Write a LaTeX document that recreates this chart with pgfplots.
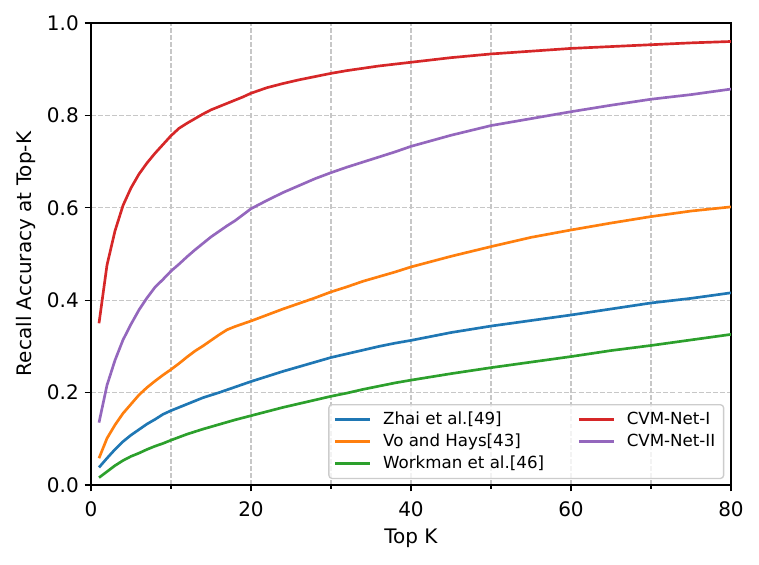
\documentclass[border=0pt]{standalone}
\usepackage{fontspec}
\setmainfont{DejaVu Sans}
\usepackage{pgfplots}
\usepackage{pgfplotstable}
\pgfplotsset{compat=1.18}
\definecolor{cA}{HTML}{1F77B4}
\definecolor{cB}{HTML}{FF7F0E}
\definecolor{cC}{HTML}{2CA02C}
\definecolor{cD}{HTML}{D62728}
\definecolor{cE}{HTML}{9467BD}

\pgfplotstableread{
k r
1 0.350
2 0.476
3 0.550
4 0.605
5 0.643
6 0.673
7 0.697
8 0.718
9 0.737
10 0.756
11 0.772
12 0.783
13 0.793
14 0.803
15 0.812
16 0.819
17 0.826
18 0.833
19 0.840
20 0.848
22 0.860
24 0.869
26 0.877
28 0.884
30 0.891
32 0.897
34 0.902
36 0.907
38 0.911
40 0.915
45 0.925
50 0.933
55 0.939
60 0.945
65 0.949
70 0.953
75 0.957
80 0.960
}\cvmone

\pgfplotstableread{
k r
1 0.135
2 0.216
3 0.270
4 0.314
5 0.348
6 0.379
7 0.405
8 0.428
9 0.445
10 0.463
11 0.478
12 0.494
13 0.509
14 0.523
15 0.537
16 0.549
17 0.561
18 0.572
19 0.585
20 0.598
22 0.616
24 0.633
26 0.648
28 0.663
30 0.676
32 0.688
34 0.699
36 0.710
38 0.721
40 0.733
45 0.757
50 0.778
55 0.793
60 0.808
65 0.822
70 0.835
75 0.845
80 0.857
}\cvmtwo

\pgfplotstableread{
k r
1 0.058
2 0.101
3 0.130
4 0.155
5 0.175
6 0.195
7 0.211
8 0.225
9 0.238
10 0.250
11 0.263
12 0.277
13 0.290
14 0.301
15 0.313
16 0.325
17 0.336
18 0.343
19 0.349
20 0.355
22 0.368
24 0.381
26 0.393
28 0.405
30 0.418
32 0.429
34 0.441
36 0.451
38 0.461
40 0.472
45 0.495
50 0.516
55 0.536
60 0.552
65 0.567
70 0.581
75 0.593
80 0.602
}\vohays

\pgfplotstableread{
k r
1 0.038
2 0.058
3 0.077
4 0.094
5 0.108
6 0.120
7 0.132
8 0.142
9 0.153
10 0.161
12 0.175
14 0.189
16 0.200
18 0.212
20 0.224
22 0.235
24 0.246
26 0.256
28 0.266
30 0.276
32 0.284
34 0.292
36 0.300
38 0.307
40 0.313
45 0.330
50 0.344
55 0.356
60 0.368
65 0.381
70 0.394
75 0.404
80 0.416
}\zhai

\pgfplotstableread{
k r
1 0.016
2 0.029
3 0.042
4 0.053
5 0.062
6 0.069
7 0.077
8 0.084
9 0.090
10 0.097
12 0.110
14 0.121
16 0.131
18 0.141
20 0.150
22 0.159
24 0.168
26 0.176
28 0.184
30 0.192
32 0.199
34 0.207
36 0.214
38 0.221
40 0.227
45 0.241
50 0.254
55 0.266
60 0.278
65 0.291
70 0.302
75 0.314
80 0.326
}\workman

\begin{document}
\begin{tikzpicture}
\useasboundingbox (-54.6pt,-47.4pt) rectangle (400.8pt,291pt);
\begin{axis}[
  at={(0,0)}, anchor=south west,
  scale only axis, width=384pt, height=277.2pt,
  xmin=0, xmax=80, ymin=0, ymax=1,
  xtick={0,20,40,60,80}, minor xtick={10,30,50,70},
  ytick={0,0.2,0.4,0.6,0.8,1},
  yticklabel style={/pgf/number format/.cd, fixed, fixed zerofill, precision=1},
  /pgf/number format/assume math mode=true,
  tick pos=left,
  tick align=outside, major tick length=3.8pt, minor tick length=2.2pt,
  tick style={black, line width=0.8pt},
  axis line style={line width=0.8pt},
  grid=both,
  major grid style={black!22, line width=0.8pt, dash pattern=on 2.96pt off 1.28pt},
  minor grid style={black!22, line width=0.8pt, dash pattern=on 2.96pt off 1.28pt},
  xlabel={Top K}, ylabel={Recall Accuracy at Top-K},
  label style={font=\fontsize{12}{14}\selectfont},
  ticklabel style={font=\fontsize{12}{14}\selectfont},
  xticklabel style={yshift=-2.5pt},
  xlabel style={yshift=-0.8pt},
  every axis plot post/.append style={line width=1.6pt, line join=round},
  legend columns=2,
  legend cell align=left,
  legend image code/.code={\draw[#1, line width=1.6pt] (0pt,0pt) -- (21pt,0pt); \path (26pt,0pt);},
  legend style={at={(1,0)}, anchor=south east, xshift=-4pt, yshift=3.5pt,
    draw=black!20, line width=0.8pt, rounded corners=2pt, fill=white,
    fill opacity=0.8, text opacity=1, draw opacity=1,
    font=\fontsize{10}{12}\selectfont, inner xsep=3pt, inner ysep=2.5pt, row sep=0pt,
    /tikz/every even column/.append style={column sep=18pt}},
]
\addlegendimage{draw=cA}
\addlegendentry{Zhai et al.[49]}
\addlegendimage{draw=cD}
\addlegendentry{CVM-Net-I}
\addlegendimage{draw=cB}
\addlegendentry{Vo and Hays[43]}
\addlegendimage{draw=cE}
\addlegendentry{CVM-Net-II}
\addlegendimage{draw=cC}
\addlegendentry{Workman et al.[46]}
\addplot[draw=cA, forget plot] table[x=k,y=r] {\zhai};
\addplot[draw=cB, forget plot] table[x=k,y=r] {\vohays};
\addplot[draw=cC, forget plot] table[x=k,y=r] {\workman};
\addplot[draw=cD, forget plot] table[x=k,y=r] {\cvmone};
\addplot[draw=cE, forget plot] table[x=k,y=r] {\cvmtwo};
\end{axis}
\end{tikzpicture}
\end{document}
